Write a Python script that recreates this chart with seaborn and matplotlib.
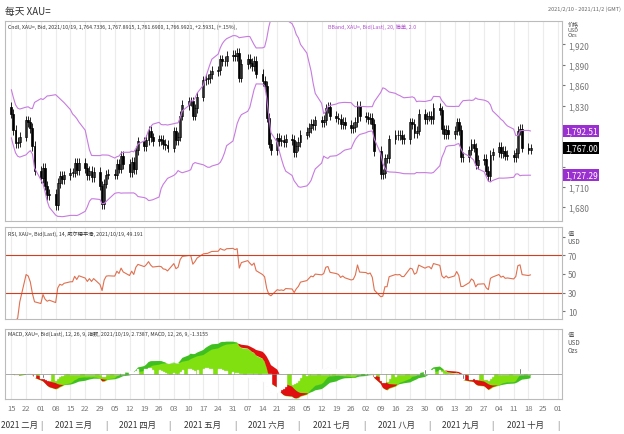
import numpy as np
import pandas as pd
import seaborn as sns
import matplotlib.pyplot as plt
import matplotlib.dates as mdates

# daily closes, XAU= 2021-02-15 .. 2021-10-19
closes = [1818, 1794, 1775, 1776, 1784, 1808, 1806, 1797, 1770, 1734,
          1723, 1738, 1712, 1698, 1700, 1683, 1716, 1726, 1722, 1727,
          1731, 1731, 1745, 1735, 1745, 1738, 1727, 1734, 1725, 1732,
          1712, 1685, 1715, 1728, 1729, 1728, 1744, 1737, 1756, 1744,
          1732, 1747, 1736, 1764, 1777, 1770, 1779, 1793, 1783, 1777,
          1780, 1779, 1773, 1772, 1768, 1792, 1779, 1784, 1815, 1831,
          1836, 1836, 1815, 1826, 1843, 1867, 1869, 1870, 1876, 1881,
          1882, 1898, 1896, 1895, 1903, 1905, 1903, 1908, 1871, 1891,
          1899, 1893, 1888, 1896, 1877, 1866, 1859, 1812, 1774, 1764,
          1782, 1778, 1779, 1776, 1781, 1779, 1761, 1770, 1776, 1787,
          1791, 1797, 1803, 1801, 1808, 1806, 1809, 1826, 1828, 1815,
          1812, 1810, 1803, 1806, 1802, 1797, 1798, 1806, 1829, 1814,
          1813, 1810, 1812, 1803, 1763, 1729, 1730, 1752, 1752, 1780,
          1787, 1786, 1787, 1781, 1781, 1805, 1803, 1789, 1793, 1818,
          1810, 1814, 1815, 1810, 1827, 1823, 1795, 1788, 1794, 1788,
          1793, 1805, 1794, 1754, 1754, 1764, 1774, 1768, 1743, 1750,
          1751, 1734, 1726, 1757, 1761, 1769, 1760, 1763, 1756, 1757,
          1754, 1760, 1793, 1796, 1768, 1765, 1767]
wick = 7
price_ticks = [1680, 1710, 1740, 1770, 1800, 1830, 1860, 1890, 1920]
rsi_ticks = [10, 30, 50, 70, 90]
months = ["2021 二月", "2021 三月", "2021 四月", "2021 五月", "2021 六月",
          "2021 七月", "2021 八月", "2021 九月", "2021 十月"]

dates = pd.bdate_range("2021-02-15", periods=len(closes))
df = pd.DataFrame({"date": dates, "close": closes})
df["open"] = df["close"].shift(1).fillna(df["close"].iloc[0] + 10)
df["ma"] = df["close"].rolling(20, min_periods=1).mean()
sd = df["close"].rolling(20, min_periods=5).std().bfill()
df["upper"] = df["ma"] + 2 * sd
df["lower"] = df["ma"] - 2 * sd
d = df["close"].diff().fillna(0)
up = d.clip(lower=0).ewm(alpha=1 / 14).mean()
dn = (-d.clip(upper=0)).ewm(alpha=1 / 14).mean()
df["rsi"] = 100 - 100 / (1 + up / dn.replace(0, 1e-9))
df["macd"] = df["close"].ewm(span=12).mean() - df["close"].ewm(span=26).mean()
df["signal"] = df["macd"].ewm(span=9).mean()
df["x"] = mdates.date2num(df["date"])

sns.set_style("whitegrid", {"axes.linewidth": 0.5})
plt.rcParams["font.family"] = ["Noto Sans CJK SC", "DejaVu Sans"]
fig = plt.figure(figsize=(6.24, 4.35), dpi=100)
ax1 = fig.add_axes([0.008, 0.49, 0.893, 0.46])
ax2 = fig.add_axes([0.008, 0.265, 0.893, 0.21])
ax3 = fig.add_axes([0.008, 0.08, 0.893, 0.162])
x0, x1 = mdates.date2num(pd.Timestamp("2021-02-12")), mdates.date2num(pd.Timestamp("2021-11-03"))
mondays = pd.date_range("2021-02-15", "2021-11-01", freq="7D")

for ax in (ax1, ax2, ax3):
    ax.set_xlim(x0, x1)
    ax.set_xticks(mdates.date2num(mondays))
    ax.set_xticklabels([])
    ax.grid(axis="x", color="#ececec", lw=0.8)
    ax.grid(axis="y", visible=False)
    ax.yaxis.tick_right()
    ax.tick_params(axis="y", labelsize=6, colors="#777777", length=2, pad=2)
    ax.tick_params(axis="x", length=0)
    for s in ax.spines.values():
        s.set_color("#bbbbbb")

# price panel
for _, r in df.iterrows():
    lo, hi = min(r.open, r.close), max(r.open, r.close)
    ax1.vlines(r.x, lo - wick, hi + wick, color="black", lw=0.6)
    ax1.bar(r.x, max(hi - lo, 0.8), bottom=lo, width=0.9,
            color="white" if r.close >= r.open else "black", edgecolor="black", lw=0.5)
sns.lineplot(data=df, x="x", y="upper", ax=ax1, color="#c77be0", lw=0.8)
sns.lineplot(data=df, x="x", y="lower", ax=ax1, color="#c77be0", lw=0.8)
ylo, yhi = 1660, 1955
ax1.set_ylim(ylo, yhi)
last = df.iloc[-1]
boxes = [(last.upper, "#9b30d0"), (last.lower, "#9b30d0"), (last.close, "black")]
shown = [t for t in price_ticks if all(abs(t - v) > 14 for v, _ in boxes)]
ax1.set_yticks(price_ticks)
ax1.set_yticklabels([f"{v:,}" if v in shown else "" for v in price_ticks])
for val, fc in boxes:
    ax1.text(1.005, (val - ylo) / (yhi - ylo), f"{val:,.2f}", transform=ax1.transAxes,
             fontsize=6, color="white", va="center",
             bbox=dict(boxstyle="square,pad=0.2", fc=fc, ec="none"))
ax1.text(1.01, 1.0, "价格\nUSD\nOzs", transform=ax1.transAxes, fontsize=4, va="top",
         color="#555555", linespacing=1.0)
ax1.text(0.005, 0.985, "Cndl, XAU=, Bid, 2021/10/19, 1,764.7336, 1,767.8915, 1,761.6900, 1,766.9921, +2.5931, (+.15%),",
         transform=ax1.transAxes, fontsize=3.8, va="top", color="#333333")
ax1.text(0.58, 0.985, "BBand, XAU=, Bid(Last), 20, 简单, 2.0", transform=ax1.transAxes,
         fontsize=3.8, va="top", color="#b050d0")
ax1.set_xlabel(""); ax1.set_ylabel("")

# RSI panel
sns.lineplot(data=df, x="x", y="rsi", ax=ax2, color="#e07050", lw=0.8)
for lvl in (70, 30):
    ax2.axhline(lvl, color="#d04020", lw=0.8)
ax2.set_ylim(2, 100)
ax2.set_yticks(rsi_ticks)
ax2.set_yticklabels(["10", "30", "50", "70", ""])
ax2.text(1.01, 0.98, "值\nUSD", transform=ax2.transAxes, fontsize=4.5, va="top",
         color="#555555", linespacing=1.0)
ax2.text(0.005, 0.97, "RSI, XAU=, Bid(Last), 14, 威尔德平滑, 2021/10/19, 49.191",
         transform=ax2.transAxes, fontsize=3.8, va="top", color="#333333")
ax2.set_xlabel(""); ax2.set_ylabel("")

# MACD panel
m, s_ = df["macd"].values, df["signal"].values
ax3.fill_between(df["x"], 0, m, color="#80e010", lw=0)
ax3.fill_between(df["x"], m, s_, where=s_ > m, color="#e01010", lw=0, interpolate=True)
ax3.fill_between(df["x"], m, s_, where=m > s_, color="#40c020", lw=0, interpolate=True)
ax3.bar(df["x"], m - s_, width=0.5, color="#333333")
ax3.axhline(0, color="#888888", lw=0.5)
ax3.set_ylim(-25, 45)
ax3.set_yticks([])
ax3.text(1.01, 0.98, "值\nUSD\nOzs", transform=ax3.transAxes, fontsize=4.5, va="top",
         color="#555555", linespacing=1.0)
ax3.text(0.005, 0.97, "MACD, XAU=, Bid(Last), 12, 26, 9, 指数, 2021/10/19, 2.7387, MACD, 12, 26, 9, -1.3155",
         transform=ax3.transAxes, fontsize=3.8, va="top", color="#333333")
ax3.set_xlabel(""); ax3.set_ylabel("")

# date labels
xt = ax3.get_xaxis_transform()
for dt in mondays:
    ax3.text(mdates.date2num(dt), -0.07, dt.strftime("%d"), transform=xt,
             fontsize=5.5, ha="center", va="top", color="#777777")
month_starts = pd.date_range("2021-02-01", "2021-11-01", freq="MS")
for i, lab in enumerate(months):
    b = mdates.date2num(month_starts[i + 1])
    if i == 0:
        ax3.text(b - 1.5, -0.3, lab, transform=xt, fontsize=6, ha="right", va="top", color="#333333")
    else:
        a = mdates.date2num(month_starts[i])
        ax3.text((a + b) / 2, -0.3, lab, transform=xt, fontsize=6, ha="center", va="top", color="#333333")
    ax3.text(b, -0.3, "|", transform=xt, fontsize=6, ha="center", va="top", color="#666666")

fig.text(0.008, 0.985, "每天 XAU=", fontsize=7, va="top", color="#333333")
fig.text(0.995, 0.985, "2021/2/10 - 2021/11/2 (GMT)", fontsize=4, va="top", ha="right", color="#666666")
fig.savefig("out.png", dpi=100)
